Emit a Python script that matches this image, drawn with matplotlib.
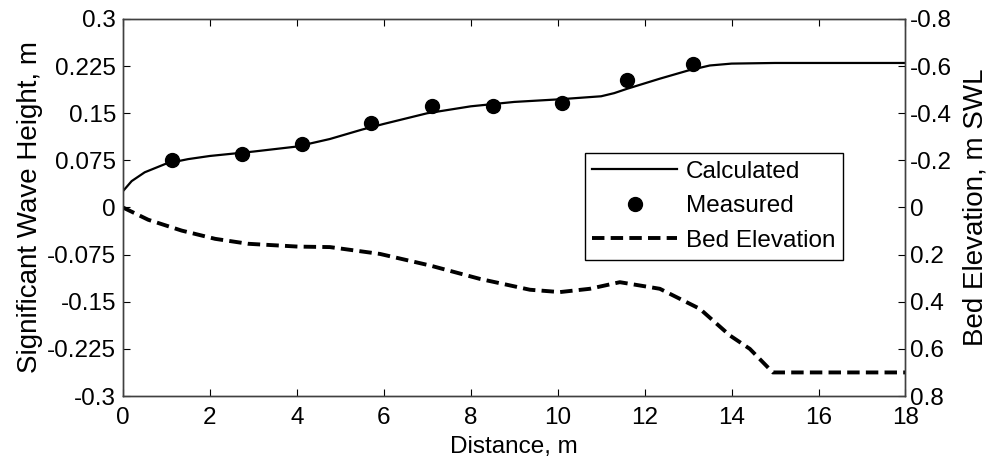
import matplotlib
matplotlib.use("Agg")
import matplotlib.pyplot as plt
from matplotlib.ticker import FuncFormatter

plt.rcParams["font.family"] = ["Liberation Sans", "DejaVu Sans"]

# calculated significant wave height (m)
calc_x = [0, 0.2, 0.5, 1.0, 1.5, 2.0, 3.0, 4.0, 4.76, 5.5, 6.0, 7.0, 8.0, 9.0,
          10.0, 11.0, 11.3, 11.6, 12.35, 13.0, 13.5, 14.0, 15.0, 18.0]
calc_h = [0.026, 0.042, 0.056, 0.070, 0.077, 0.082, 0.089, 0.097, 0.109, 0.124,
          0.133, 0.150, 0.161, 0.168, 0.172, 0.177, 0.182, 0.189, 0.205, 0.218,
          0.226, 0.229, 0.230, 0.230]

# measured wave height (m)
meas_x = [1.12, 2.73, 4.12, 5.7, 7.12, 8.52, 10.11, 11.6, 13.12]
meas_h = [0.076, 0.0855, 0.101, 0.134, 0.161, 0.162, 0.166, 0.203, 0.229]

# bed elevation (m below SWL)
bed_x = [0, 0.58, 1.35, 2.12, 2.88, 4.03, 4.76, 5.91, 7.06, 8.21, 9.36, 10.05,
         10.74, 11.43, 12.35, 13.27, 13.96, 14.42, 14.95, 18.0]
bed_z = [0, 0.052, 0.098, 0.133, 0.154, 0.166, 0.168, 0.197, 0.246, 0.303, 0.349,
         0.359, 0.345, 0.317, 0.345, 0.43, 0.543, 0.60, 0.70, 0.70]

left_ticks = [-0.3, -0.225, -0.15, -0.075, 0, 0.075, 0.15, 0.225, 0.3]
right_ticks = [-0.8, -0.6, -0.4, -0.2, 0, 0.2, 0.4, 0.6, 0.8]
x_ticks = list(range(0, 19, 2))

fig = plt.figure(figsize=(9.9, 4.63), dpi=100)
ax = fig.add_axes([0.1242, 0.1447, 0.7904, 0.8143])
ax2 = ax.twinx()

fmt = FuncFormatter(lambda v, p: "%g" % round(v, 4))

l1, = ax.plot(calc_x, calc_h, color="black", lw=1.6, label="Calculated")
l2, = ax.plot(meas_x, meas_h, "o", color="black", ms=10, label="Measured")
l3, = ax2.plot(bed_x, bed_z, color="black", lw=2.8, dashes=(3.2, 1.6),
               label="Bed Elevation")

ax.set_xlim(0, 18)
ax.set_ylim(-0.3, 0.3)
ax.set_xticks(x_ticks)
ax.set_yticks(left_ticks)
ax.yaxis.set_major_formatter(fmt)
ax2.set_ylim(0.8, -0.8)
ax2.set_yticks(right_ticks)
ax2.yaxis.set_major_formatter(fmt)

ax.tick_params(axis="x", direction="in", top=True, length=5, labelsize=17.5, pad=8)
ax.tick_params(axis="y", direction="in", right=False, length=5, labelsize=17.5, pad=5)
ax2.tick_params(axis="y", direction="in", length=5, labelsize=17.5, pad=3)

for a in (ax, ax2):
    for s in a.spines.values():
        s.set_color("#404040")
        s.set_linewidth(1)

ax.set_xlabel("Distance, m", fontsize=17.5, labelpad=5)
ax.set_ylabel("Significant Wave Height, m", fontsize=20, labelpad=3)
ax2.set_ylabel("Bed Elevation, m SWL", fontsize=20, labelpad=8)

leg = ax2.legend([l1, l2, l3], ["Calculated", "Measured", "Bed Elevation"],
                 loc="upper left", bbox_to_anchor=(0.59, 0.645), fontsize=17.5,
                 handlelength=3.5, fancybox=False, framealpha=1,
                 borderpad=0.32, labelspacing=0.52, handletextpad=0.35,
                 borderaxespad=0)
leg.get_frame().set_edgecolor("black")
leg.get_frame().set_linewidth(1)

fig.savefig("out.png", dpi=100)
